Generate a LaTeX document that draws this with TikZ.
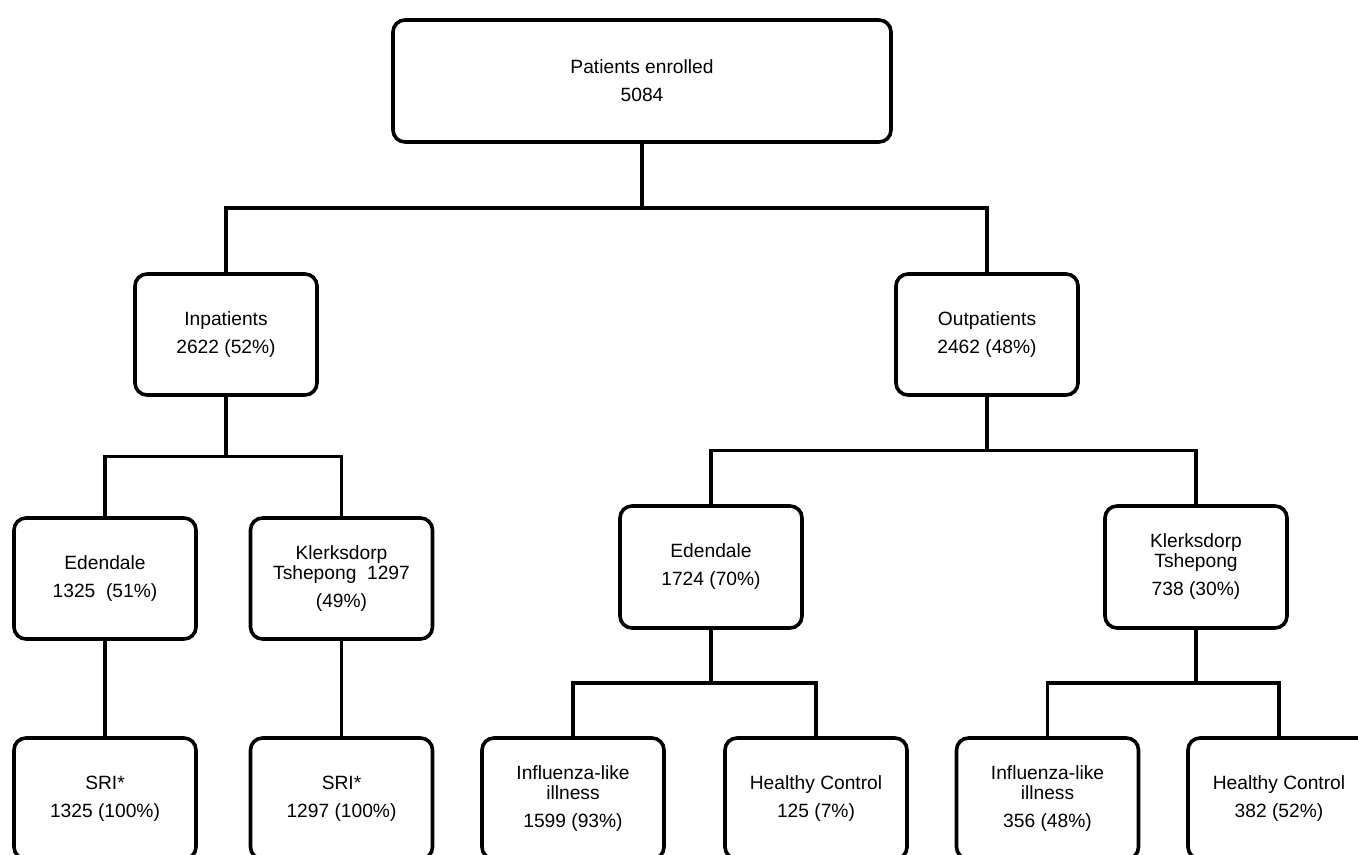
\documentclass[tikz,border=0pt]{standalone}
\usepackage{fontspec}
\setmainfont{Liberation Sans}
\usetikzlibrary{calc}
\begin{document}
\begin{tikzpicture}[x=0.5pt,y=-0.5pt,line width=1.8pt,
        box/.style={rectangle,rounded corners=6pt,draw,
            minimum width=91pt,minimum height=60.5pt,
            align=center,inner sep=0pt,
            font=\fontsize{9.6}{10}\selectfont},
        elbow/.style={to path={(\tikztostart.south) |- ($(\tikztostart.south)!.5!(\tikztotarget.north)$) -| (\tikztotarget.north)}}]
                \clip (0,0) rectangle (1358,855);
                \node[box,minimum width=249pt,minimum height=61pt] (1) at(642,81){Patients enrolled\\[4pt]5084};
                \node[box] (2) at(226,334.5){Inpatients\\[4pt]2622 (52\%)};
                \node[box] (3) at(987,334.5){Outpatients\\[4pt]2462 (48\%)};
                \node[box] (4) at(105,578.5){Edendale\\[4pt]1325~~(51\%)};
                \node[box] (5) at(341.5,578.5){Klerksdorp\\Tshepong~~1297\\[4pt](49\%)};
                \node[box] (6) at(105,798.5){SRI*\\[4pt]1325 (100\%)};
                \node[box] (7) at(341.5,798.5){SRI*\\[4pt]1297 (100\%)};
                \node[box,minimum height=61pt] (8) at(711,567){Edendale\\[4pt]1724 (70\%)};
                \node[box,minimum height=61pt] (9) at(1196,567){Klerksdorp\\Tshepong\\[4pt]738 (30\%)};
                \node[box] (10) at(573,798.5){Influenza-like\\illness\\[4pt]1599 (93\%)};
                \node[box] (11) at(816,798.5){Healthy Control\\[4pt]125 (7\%)};
                \node[box] (12) at(1047.5,798.5){Influenza-like\\illness\\[4pt]356 (48\%)};
                \node[box] (13) at(1279,798.5){Healthy Control\\[4pt]382 (52\%)};
                \draw (1) to[elbow] (2);
                \draw (1) to[elbow] (3);
                \draw (2) to[elbow] (4);
                \draw (2) to[elbow] (5);
                \draw (4) to[elbow] (6);
                \draw (5) to[elbow] (7);
                \draw (3) to[elbow] (8);
                \draw (3) to[elbow] (9);
                \draw (8) to[elbow] (10);
                \draw (8) to[elbow] (11);
                \draw (9) to[elbow] (12);
                \draw (9) to[elbow] (13);
            \end{tikzpicture}
\end{document}
